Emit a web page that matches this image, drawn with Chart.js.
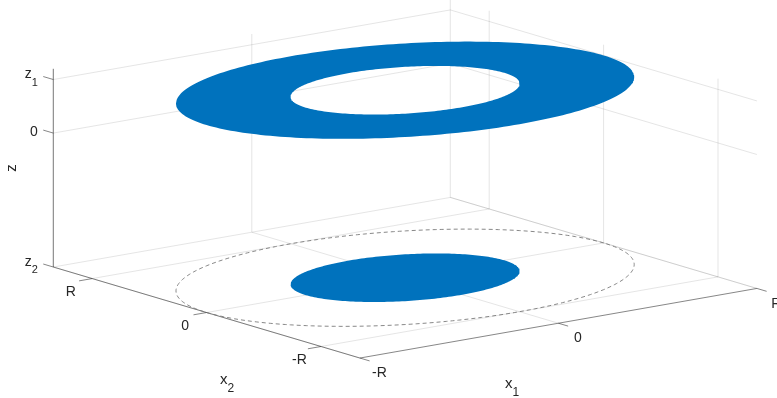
<!DOCTYPE html>
<html>
<head>
<meta charset="utf-8">
<script src="https://cdn.jsdelivr.net/npm/chart.js@4.4.1/dist/chart.umd.min.js"></script>
<style>
  html, body { margin: 0; padding: 0; background: #fff; overflow: hidden; }
  #c { display: block; }
</style>
</head>
<body>
<canvas id="c" width="777" height="398"></canvas>
<script>
// ---- axis limits and ticks (radius R = 1) ----
const x1Limits = [-1, 1];
const x2Limits = [-1.34, 1.34];
const zLimits = [-2.5, 1.2];
const x1Ticks = [-1, 0, 1];
const x1TickLabels = ['-R', '0', 'R'];
const x2Ticks = [1, 0, -1];
const x2TickLabels = ['R', '0', '-R'];
const zTicks = [-2.5, 0, 1];
const zTickLabels = [['z', '2'], ['0', ''], ['z', '1']];
const axisTitles = { x1: ['x', '1'], x2: ['x', '2'], z: ['z', ''] };

// ---- shapes ----
const ringHeight = 1;          // annulus lies on z = z1
const ringRadii = [1, 0.5];    // outer R, inner R/2
const diskHeight = -2.5;       // disk lies on z = z2
const diskRadius = 0.5;
const circleHeight = -2.5;     // dashed circle of radius R on z = z2
const circleRadius = 1;

// ---- orthographic view: 3-D point -> drawing plane ----
const view = {
  origin: [405.1, 143.8],
  e1: [198.5, -34.8],
  e2: [-114.4, -33.96],
  e3: [0, -53.57]
};
function project(x1, x2, z) {
  return {
    x: view.origin[0] + x1 * view.e1[0] + x2 * view.e2[0] + z * view.e3[0],
    y: view.origin[1] + x1 * view.e1[1] + x2 * view.e2[1] + z * view.e3[1]
  };
}

const SEG = 240;
function circlePoints(r, z, reverse) {
  const pts = [];
  for (let i = 0; i <= SEG; i++) {
    const t = 2 * Math.PI * (reverse ? SEG - i : i) / SEG;
    pts.push(project(r * Math.cos(t), r * Math.sin(t), z));
  }
  return pts;
}
// outer boundary one way, inner boundary the other way -> hole under nonzero fill
const ringPath = circlePoints(ringRadii[0], ringHeight, false)
  .concat(circlePoints(ringRadii[1], ringHeight, true));
const diskPath = circlePoints(diskRadius, diskHeight, false);
const circlePath = circlePoints(circleRadius, circleHeight, false);

const BLUE = '#0072BD';
const TEXT = '#262626';
const FONT = '"Liberation Sans", Arial, Helvetica, sans-serif';

// draws a label with optional subscript; align: 'left' | 'center' | 'right'
function subText(ctx, main, sub, x, y, align, size, subSize, drop) {
  ctx.font = size + 'px ' + FONT;
  const wm = ctx.measureText(main).width;
  ctx.font = subSize + 'px ' + FONT;
  const ws = sub ? ctx.measureText(sub).width : 0;
  const w = wm + ws;
  let left = x;
  if (align === 'center') left = x - w / 2;
  else if (align === 'right') left = x - w;
  ctx.textAlign = 'left';
  ctx.textBaseline = 'alphabetic';
  ctx.font = size + 'px ' + FONT;
  ctx.fillText(main, left, y);
  if (sub) {
    ctx.font = subSize + 'px ' + FONT;
    ctx.fillText(sub, left + wm, y + drop);
  }
}

const axes3d = {
  id: 'axes3d',
  beforeDatasetsDraw(chart) {
    const ctx = chart.ctx, sx = chart.scales.x, sy = chart.scales.y;
    const seg = (a, b) => {
      ctx.moveTo(sx.getPixelForValue(a.x), sy.getPixelForValue(a.y));
      ctx.lineTo(sx.getPixelForValue(b.x), sy.getPixelForValue(b.y));
    };
    const [a0, a1] = x1Limits, [b0, b1] = x2Limits, [c0, c1] = zLimits;
    ctx.save();
    // grid on the floor and the two back walls
    ctx.beginPath();
    x1Ticks.forEach(t => seg(project(t, b0, c0), project(t, b1, c0)));
    x2Ticks.forEach(s => seg(project(a0, s, c0), project(a1, s, c0)));
    x1Ticks.forEach(t => seg(project(t, b1, c0), project(t, b1, c1)));
    zTicks.forEach(z => seg(project(a0, b1, z), project(a1, b1, z)));
    x2Ticks.forEach(s => seg(project(a1, s, c0), project(a1, s, c1)));
    zTicks.forEach(z => seg(project(a1, b0, z), project(a1, b1, z)));
    ctx.strokeStyle = 'rgba(38,38,38,0.15)';
    ctx.lineWidth = 0.8;
    ctx.stroke();
    // axis rulers and tick marks
    ctx.beginPath();
    seg(project(a0, b1, c0), project(a0, b1, c1));
    seg(project(a0, b0, c0), project(a0, b1, c0));
    seg(project(a0, b0, c0), project(a1, b0, c0));
    zTicks.forEach(z => seg(project(a0, b1, z), project(a0, b1 + 0.088, z)));
    x2Ticks.forEach(s => seg(project(a0, s, c0), project(a0 - 0.066, s, c0)));
    x1Ticks.forEach(t => seg(project(t, b0, c0), project(t, b0 - 0.085, c0)));
    ctx.strokeStyle = 'rgba(38,38,38,0.62)';
    ctx.lineWidth = 0.9;
    ctx.stroke();
    ctx.restore();
  },
  afterDatasetsDraw(chart) {
    const ctx = chart.ctx, sx = chart.scales.x, sy = chart.scales.y;
    const pix = p => ({ x: sx.getPixelForValue(p.x), y: sy.getPixelForValue(p.y) });
    const [a0, a1] = x1Limits, [b0, b1] = x2Limits, [c0, c1] = zLimits;
    ctx.save();
    ctx.fillStyle = TEXT;
    // z tick labels
    zTicks.forEach((z, i) => {
      const p = pix(project(a0, b1, z));
      const [m, s] = zTickLabels[i];
      if (s) subText(ctx, m, s, p.x - 15.5, p.y - 1.5, 'right', 14, 11, 7.5);
      else subText(ctx, m, '', p.x - 15.5, p.y + 2.5, 'right', 14, 11, 0);
    });
    // x2 tick labels
    ctx.textAlign = 'center';
    ctx.textBaseline = 'middle';
    ctx.font = '14px ' + FONT;
    x2Ticks.forEach((s, i) => {
      const p = pix(project(a0, s, c0));
      ctx.fillText(x2TickLabels[i], p.x - 21.5, p.y + 14);
    });
    // x1 tick labels
    x1Ticks.forEach((t, i) => {
      const p = pix(project(t, b0, c0));
      ctx.fillText(x1TickLabels[i], p.x + 19.5, p.y + 15.4);
    });
    // axis titles
    const m2 = pix(project(a0, 0, c0));
    subText(ctx, axisTitles.x2[0], axisTitles.x2[1], m2.x + 13.5, m2.y + 71, 'left', 15, 12, 8);
    const m1 = pix(project(0, b0, c0));
    subText(ctx, axisTitles.x1[0], axisTitles.x1[1], m1.x - 53.4, m1.y + 65, 'left', 15, 12, 8);
    const mz = pix(project(a0, b1, (c0 + c1) / 2));
    ctx.translate(mz.x - 41, mz.y);
    ctx.rotate(-Math.PI / 2);
    ctx.textAlign = 'center';
    ctx.textBaseline = 'middle';
    ctx.font = '15px ' + FONT;
    ctx.fillText(axisTitles.z[0], 0, 0);
    ctx.restore();
  }
};

new Chart(document.getElementById('c'), {
  type: 'scatter',
  data: {
    datasets: [
      { data: ringPath, showLine: true, fill: 'shape', backgroundColor: BLUE,
        borderColor: 'rgba(0,0,0,0)', borderWidth: 0, pointRadius: 0 },
      { data: diskPath, showLine: true, fill: 'shape', backgroundColor: BLUE,
        borderColor: 'rgba(0,0,0,0)', borderWidth: 0, pointRadius: 0 },
      { data: circlePath, showLine: true, fill: false, borderColor: '#7a7a7a',
        borderWidth: 0.9, borderDash: [4, 3], pointRadius: 0 }
    ]
  },
  options: {
    responsive: false,
    animation: false,
    events: [],
    layout: { padding: 0 },
    plugins: { legend: { display: false }, tooltip: { enabled: false } },
    scales: {
      x: { type: 'linear', min: 0, max: 777, display: false },
      y: { type: 'linear', min: 0, max: 398, reverse: true, display: false }
    }
  },
  plugins: [axes3d]
});
</script>
</body>
</html>
